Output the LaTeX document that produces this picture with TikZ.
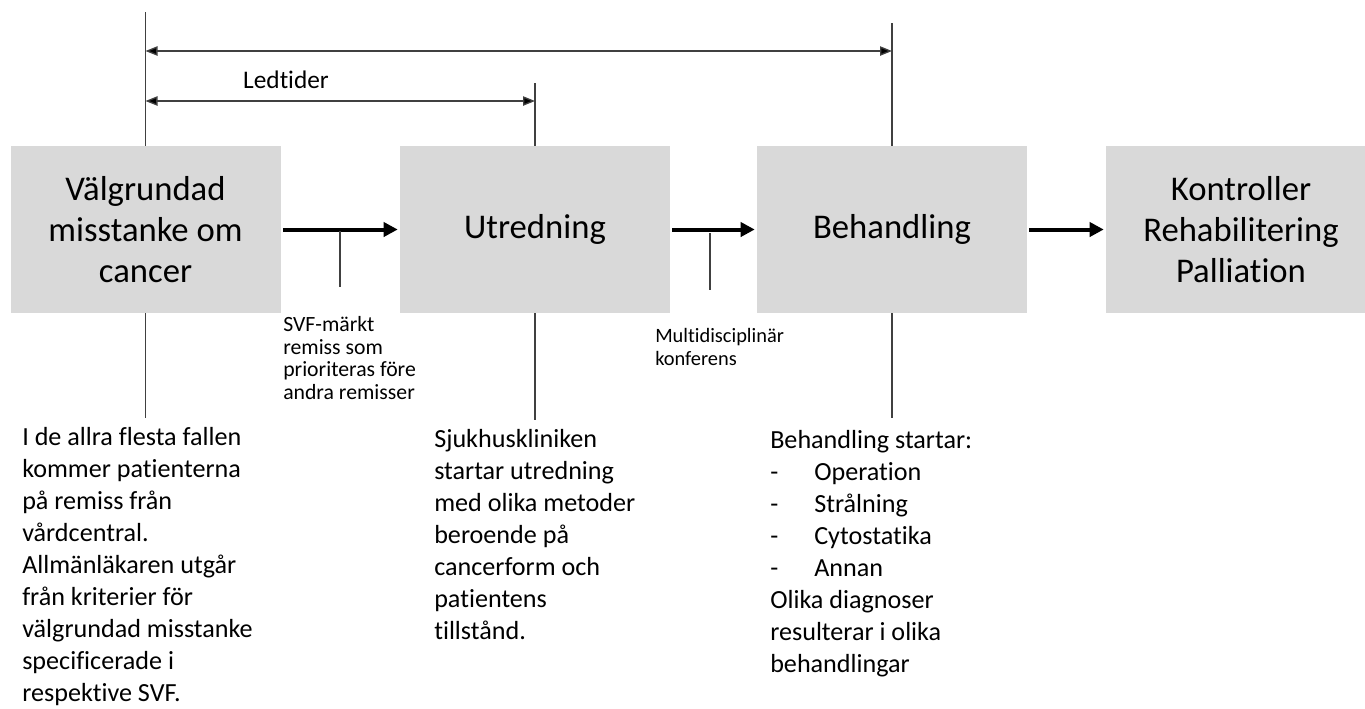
\documentclass[tikz,border=0pt]{standalone}
\usepackage{fontspec}
\setmainfont{Carlito}[Ligatures=NoCommon]
\usepackage{xcolor}
\usetikzlibrary{arrows.meta, positioning}
\definecolor{boxgray}{RGB}{217,217,217}
\definecolor{linegray}{RGB}{64,64,64}

\begin{document}
\begin{tikzpicture}[x=0.75pt, y=-0.75pt]
  \tikzset{stage/.style={rectangle, fill=boxgray, inner sep=0pt,
                         minimum width=202.5pt, minimum height=125.25pt,
                         align=center, font=\fontsize{26}{30.8}\selectfont}}
  \tikzset{flow/.style={line width=3pt, -{Triangle[length=10.5pt, width=10.5pt]}}}
  \tikzset{span/.style={draw=linegray, line width=1pt,
                        {Triangle[length=9pt, width=7pt, fill=black]}-{Triangle[length=9pt, width=7pt, fill=black]}}}
  \tikzset{guide/.style={draw=linegray, line width=1pt}}
  \tikzset{desc/.style={anchor=north west, align=left, inner sep=0pt,
                        font=\fontsize{19.6}{24}\selectfont}}
  \tikzset{note/.style={desc, font=\fontsize{16.3}{17.1}\selectfont}}

  \clip (0,0) rectangle (1365,708);

  % Stages of the care path
  \node[stage] (suspect)  at (145.5,229.5) {Välgrundad\\misstanke om\\cancer};
  \node[stage] (exam)     at (535,229.5)   {Utredning};
  \node[stage] (treat)    at (892,229.5)   {Behandling};
  \node[stage] (followup) at (1241,229.5)  {Kontroller\\Rehabilitering\\Palliation};

  % Flow between stages
  \draw[flow] ([xshift=1.5pt]suspect.east) -- ([xshift=-1.5pt]exam.west);
  \draw[flow] ([xshift=1.5pt]exam.east) -- ([xshift=-1.5pt]treat.west);
  \draw[flow] ([xshift=1.5pt]treat.east) -- ([xshift=-1.5pt]followup.west);

  % Guide lines above and below the boxes
  \coordinate (topA) at (145.5,12);
  \coordinate (topB) at (535,83);
  \coordinate (topC) at (892,23);
  \coordinate (botA) at (145.5,418);
  \coordinate (botB) at (535,420);
  \coordinate (botC) at (892,418);
  \draw[guide] (topA) -- (suspect.north);
  \draw[guide] (topB) -- (exam.north);
  \draw[guide] (topC) -- (treat.north);
  \draw[guide] (suspect.south) -- (botA);
  \draw[guide] (exam.south) -- (botB);
  \draw[guide] (treat.south) -- (botC);

  % Lead times
  \coordinate (spanL) at (145.5,51);
  \coordinate (spanR) at (892,51);
  \coordinate (leadL) at (145.5,101);
  \coordinate (leadR) at (535,101);
  \draw[span] (spanL) -- (spanR);
  \draw[span] (leadL) -- (leadR);
  \node[font=\fontsize{19}{24}\selectfont] (ledtider) at (286,80) {Ledtider};

  % Ticks under the flow arrows
  \coordinate (tickAtop) at (340,231);
  \coordinate (tickAbot) at (340,287);
  \coordinate (tickBtop) at (710,233);
  \coordinate (tickBbot) at (710,290);
  \draw[guide, line width=0.8pt] (tickAtop) -- (tickAbot);
  \draw[guide, line width=0.8pt] (tickBtop) -- (tickBbot);

  % Small labels
  \node[note] (remiss) at (283,316) {SVF-märkt\\remiss som\\prioriteras före\\andra remisser};
  \node[note, font=\fontsize{15.3}{17.2}\selectfont] (mdk) at (655,328) {Multidisciplinär\\konferens};

  % Descriptions under the stages
  \node[desc] (descA) at (22,427) {I de allra flesta fallen\\kommer patienterna\\på remiss från\\vårdcentral.\\Allmänläkaren utgår\\från kriterier för\\välgrundad misstanke\\specificerade i\\respektive SVF.};
  \node[desc] (descB) at (434,429) {Sjukhuskliniken\\startar utredning\\med olika metoder\\beroende på\\cancerform och\\patientens\\tillstånd.};
  \node[desc] (descC) at (770,430) {Behandling startar:\\
    \makebox[33pt][l]{-}Operation\\
    \makebox[33pt][l]{-}Strålning\\
    \makebox[33pt][l]{-}Cytostatika\\
    \makebox[33pt][l]{-}Annan\\
    Olika diagnoser\\resulterar i olika\\behandlingar};
\end{tikzpicture}
\end{document}
